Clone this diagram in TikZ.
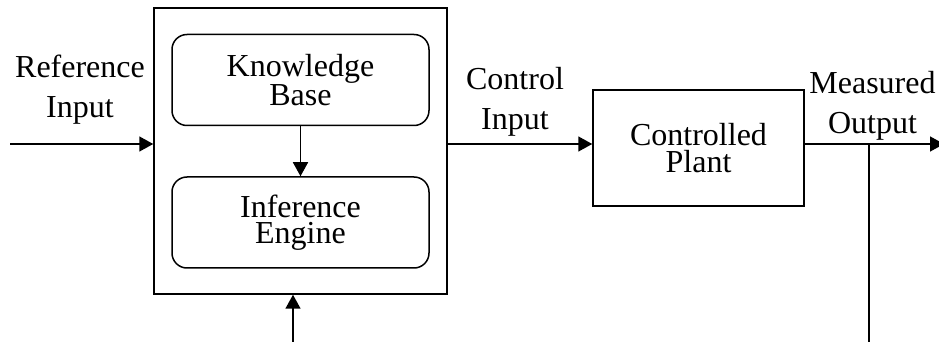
\documentclass[tikz,border=0pt]{standalone}
\usepackage{fontspec}
\setmainfont{Liberation Serif}
\usetikzlibrary{arrows.meta}
\begin{document}
\begin{tikzpicture}[x=0.5pt,y=-0.5pt,
  every node/.style={inner sep=0pt},
  arr/.style={line width=0.75pt,-{Triangle[length=7pt,width=7.5pt]}},
  ln/.style={line width=0.75pt},
  boxtext/.style={align=center,font=\fontsize{16}{13.3}\selectfont},
  lbl/.style={align=center,font=\fontsize{16}{20}\selectfont},
  sqbox/.style={draw,line width=0.75pt,boxtext},
  rbox/.style={draw,line width=0.75pt,rounded corners=7.5pt,boxtext,minimum width=128.5pt,minimum height=45.5pt}]
\useasboundingbox (0,0) rectangle (939,342);
\node[sqbox,minimum width=146.5pt,minimum height=143pt] (ctrl) at (300.5,151) {};
\node[rbox] (kb) at (300.5,80) {Knowledge\\Base};
\node[rbox] (ie) at (300.5,222.5) {Inference\\Engine};
\node[sqbox,minimum width=105.5pt,minimum height=58pt] (plant) at (698.5,148) {Controlled\\Plant};
\coordinate (refin) at (10,144);
\coordinate (out) at (944,144);
\coordinate (tap) at (869,144);
\coordinate (tapb) at (869,346);
\coordinate (fbin) at (293,346);
\node[lbl] (lref) at (80,90) {Reference\\Input};
\node[lbl] (lctl) at (515,102) {Control\\Input};
\node[lbl] (lmeas) at (872.5,106) {Measured\\Output};
\draw[arr] (refin) -- (refin -| ctrl.west);
\draw[arr] (kb) -- (ie);
\draw[arr] (fbin) -- (fbin |- ctrl.south);
\draw[arr] (ctrl.east |- refin) -- (plant.west |- refin);
\draw[arr] (plant.east |- refin) -- (out);
\draw[ln] (tap) -- (tapb);
\end{tikzpicture}
\end{document}
